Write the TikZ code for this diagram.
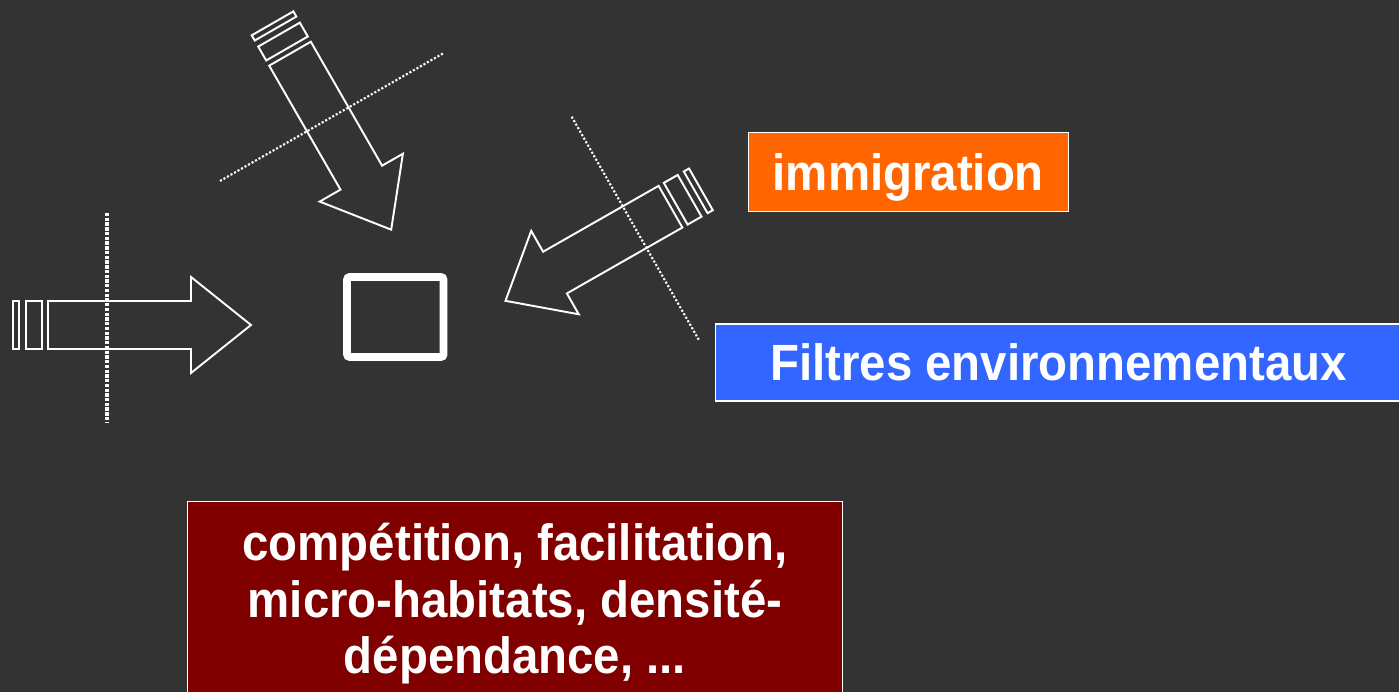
\documentclass[tikz,border=0pt]{standalone}
\usepackage{fontspec}
\usepackage{xcolor}
\usepackage{tikz}
\usetikzlibrary{positioning}
\newfontfamily\boxfont{Liberation Sans}[FakeStretch=0.93]
\definecolor{bgdark}{HTML}{333333}
\definecolor{immorange}{HTML}{FF6600}
\definecolor{filtblue}{HTML}{3366FF}
\definecolor{bioticred}{HTML}{800000}
% outline arrow with two filter bars behind it: shaft length, head length
\newcommand{\sieveArrow}[2]{%
  \draw[arrowline] (0,-24) -- (#1,-24) -- (#1,-48) -- ({#1+#2},0) -- (#1,48) -- (#1,24) -- (0,24) -- cycle;
  \draw[arrowline] (-22,-24) rectangle (-6,24);
  \draw[arrowline] (-35,-24) rectangle (-29,24);
}

\begin{document}
\begin{tikzpicture}[x=0.02cm, y=-0.02cm,
  every node/.style={font=\boxfont\bfseries\fontsize{29pt}{32.2pt}\selectfont, text=white},
  labelbox/.style={draw=white, line width=0.6pt, inner sep=0pt, text height=20.5pt, text depth=0pt},
  arrowline/.style={draw=white, line width=1.1pt},
  filterline/.style={white, line width=1.2pt, dash pattern=on 1.2pt off 1.1pt}]
  \useasboundingbox (0,0) rectangle (1399,692);
  \clip (0,0) rectangle (1399,692);
  \fill[bgdark] (0,0) rectangle (1399,692);

  % arrows towards the site
  \begin{scope}[shift={(48,325)}]
    \sieveArrow{143}{60}
  \end{scope}
  \begin{scope}[shift={(290,53.7)}, rotate=-60.1]
    \sieveArrow{143}{60}
  \end{scope}
  \begin{scope}[shift={(670.5,206.7)}, rotate=209.7]
    \sieveArrow{133}{57}
  \end{scope}

  % filters crossing the arrows
  \draw[white, line width=1.9pt, dash pattern=on 1.9pt off 0.8pt] (107,213) -- (107,422);
  \draw[filterline] (220,181) -- (443.3,53.3);
  \draw[filterline] (571.7,116.7) -- (699.3,340.7);

  \node[draw=white, line width=4.4pt, minimum width=1.93cm, minimum height=1.6cm,
    rounded corners=1.5pt, inner sep=0pt] (site) at (395.3,317) {};

  \node[labelbox, fill=immorange, minimum width=6.4cm, minimum height=1.588cm] (immig) at (908.3,172) {immigration};
  \node[labelbox, fill=filtblue, minimum width=13.74cm, minimum height=1.54cm] (filters) at (1058.5,362.5) {Filtres environnementaux};

  \node[draw=white, line width=0.6pt, fill=bioticred, minimum width=13.12cm, minimum height=4.8cm,
    anchor=north] (bioticbox) at (515,500.5) {};
  \node[align=center, inner sep=0pt, anchor=north] (biotic) at (515,523)
    {compétition, facilitation,\\ micro-habitats, densité-\\ dépendance, ...};
\end{tikzpicture}
\end{document}
